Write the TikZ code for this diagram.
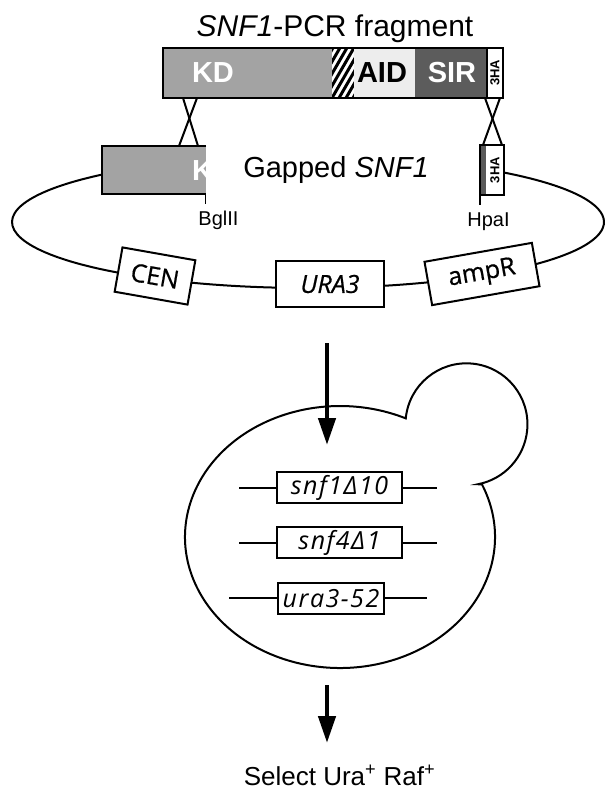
\documentclass[tikz,border=0pt]{standalone}
\usepackage{fontspec}
\setmainfont{Liberation Sans}
\newfontfamily\boxfont[FakeBold=0.6]{Open Sans}
\newfontfamily\genefont[LetterSpace=6]{Open Sans}
\usetikzlibrary{arrows.meta}
\definecolor{kdgray}{gray}{0.64}
\definecolor{aidgray}{gray}{0.93}
\definecolor{sirgray}{gray}{0.36}
\definecolor{hagray}{gray}{0.35}
\def\fsize#1{\fontsize{#1}{#1}\selectfont}

\begin{document}
\begin{tikzpicture}[x=1pt,y=-1pt,
	outline/.style={line width=2.4pt},
	plasmid/.style={line width=2pt},
	segtext/.style={font=\fsize{29}\bfseries, inner sep=0pt},
	hatag/.style={font=\fsize{13}\bfseries, rotate=90, inner sep=0pt},
	markbox/.style={draw, line width=2pt, fill=white, inner sep=0pt, font=\boxfont\fsize{25}},
	genebox/.style={draw, line width=2pt, fill=white, inner sep=0pt, minimum height=31pt, font=\genefont\itshape\fsize{25}},
	sitetext/.style={font=\fsize{20}, inner sep=0pt},
	flow/.style={line width=4.5pt, -{Triangle[width=17pt,length=27pt]}}]
			\useasboundingbox (0,0) rectangle (606,791);
			%%%%% PCR FRAGMENT %%%%%
			\node[anchor=base, font=\fsize{30}] (title) at (335,37) {\textit{SNF1}-PCR fragment};
			
			\fill[kdgray] (163,48) rectangle (332,98);
			\begin{scope}
				\clip (332,48) rectangle (354,98);
				\fill[white] (332,48) rectangle (354,98);
				\foreach \s in {0,7,...,56}
					\draw[line width=3pt] (304+\s,98) -- ++(-60:70);
			\end{scope}
			\fill[aidgray] (354,48) rectangle (415,98);
			\fill[sirgray] (415,48) rectangle (487,98);
			\fill[white] (487,48) rectangle (503,98);
			\draw[line width=1.2pt] (487,48) -- (487,98);
			\draw[outline] (163,48) rectangle (503,98);
			
			\node[segtext, white] (kd) at (213,73) {KD};
			\node[segtext] (aid) at (382,73) {AID};
			\node[segtext, white] (sir) at (452,73) {SIR};
			\node[hatag] (haA) at (495,73) {3HA};
			
			% crossover points
			\coordinate (fragL1) at (183,98);
			\coordinate (fragL2) at (197,98);
			\coordinate (fragR1) at (485,98);
			\coordinate (fragR2) at (500,98);
			\coordinate (kdL) at (179,146);
			\coordinate (kdR) at (198,146);
			\coordinate (haL) at (483,145);
			\coordinate (haR) at (502,145);
			\draw[plasmid] (fragL1) -- (kdR);
			\draw[plasmid] (fragL2) -- (kdL);
			\draw[plasmid] (fragR1) -- (haR);
			\draw[plasmid] (fragR2) -- (haL);
			
			%%%%% GAPPED PLASMID %%%%%
			\draw[plasmid] (308,222) ++(-48.3:296 and 66) arc[start angle=-48.3, end angle=225.7, x radius=296, y radius=66];
			
			\fill[kdgray] (102,146) rectangle (206,194);
			\begin{scope}
				\clip (102,146) rectangle (206,194);
				\node[segtext, white, anchor=base west] (kdcut) at (192,181) {K};
			\end{scope}
			\draw[outline] (206,146) -- (102,146) -- (102,194) -- (206,194);
			\draw[line width=1.6pt] (205.5,194) -- (205.5,204);
			
			\fill[white] (480,145) rectangle (504,195);
			\fill[hagray] (480,145) rectangle (486,195);
			\draw[outline] (480,145) rectangle (504,195);
			\draw[line width=1.6pt] (480,195) -- (480,205);
			\node[hatag] (haB) at (495,170) {3HA};
			
			\node[anchor=base, font=\fsize{29}] (gapped) at (336,178) {Gapped \textit{SNF1}};
			\node[sitetext, anchor=base] (bgl) at (218.5,226) {BglII};
			\node[sitetext, anchor=base] (hpa) at (488.5,227) {HpaI};
			
			\node[markbox, rotate=-10, minimum width=74pt, minimum height=45pt] (cen) at (155,276) {CEN};
			\node[markbox, minimum width=108pt, minimum height=46pt] (ura) at (330,284) {\itshape URA3};
			\node[markbox, rotate=10, minimum width=109pt, minimum height=44pt] (amp) at (482,274) {ampR};
			
			%%%%% TRANSFORMATION %%%%%
			\coordinate (in1) at (327,343);
			\coordinate (in2) at (327,445);
			\draw[flow] (in1) -- (in2);
			
			% yeast cell with bud
			\draw[plasmid] (340,537) ++(-23.7:155 and 131) arc[start angle=-23.7, end angle=295.1, x radius=155, y radius=131]
				arc[start angle=185.6, end angle=439.2, radius=61] -- cycle;
			
			\coordinate (chrA1) at (239,488);
			\coordinate (chrA2) at (437,488);
			\coordinate (chrB1) at (239,543);
			\coordinate (chrB2) at (437,543);
			\coordinate (chrC1) at (229,598);
			\coordinate (chrC2) at (427,598);
			\draw[plasmid] (chrA1) -- (chrA2);
			\draw[plasmid] (chrB1) -- (chrB2);
			\draw[plasmid] (chrC1) -- (chrC2);
			\node[genebox, minimum width=125pt] (snfA) at (339.5,487.5) {snf1Δ10};
			\node[genebox, minimum width=125pt] (snfB) at (339.5,542.5) {snf4Δ1};
			\node[genebox, minimum width=106pt] (ura52) at (331,598.5) {ura3-52};
			
			%%%%% SELECTION %%%%%
			\coordinate (out1) at (327,685);
			\coordinate (out2) at (327,743);
			\draw[flow] (out1) -- (out2);
			\node[anchor=base, font=\fsize{26}] (select) at (339.5,785) {Select Ura\textsuperscript{+} Raf\textsuperscript{+}};
\end{tikzpicture}
\end{document}
